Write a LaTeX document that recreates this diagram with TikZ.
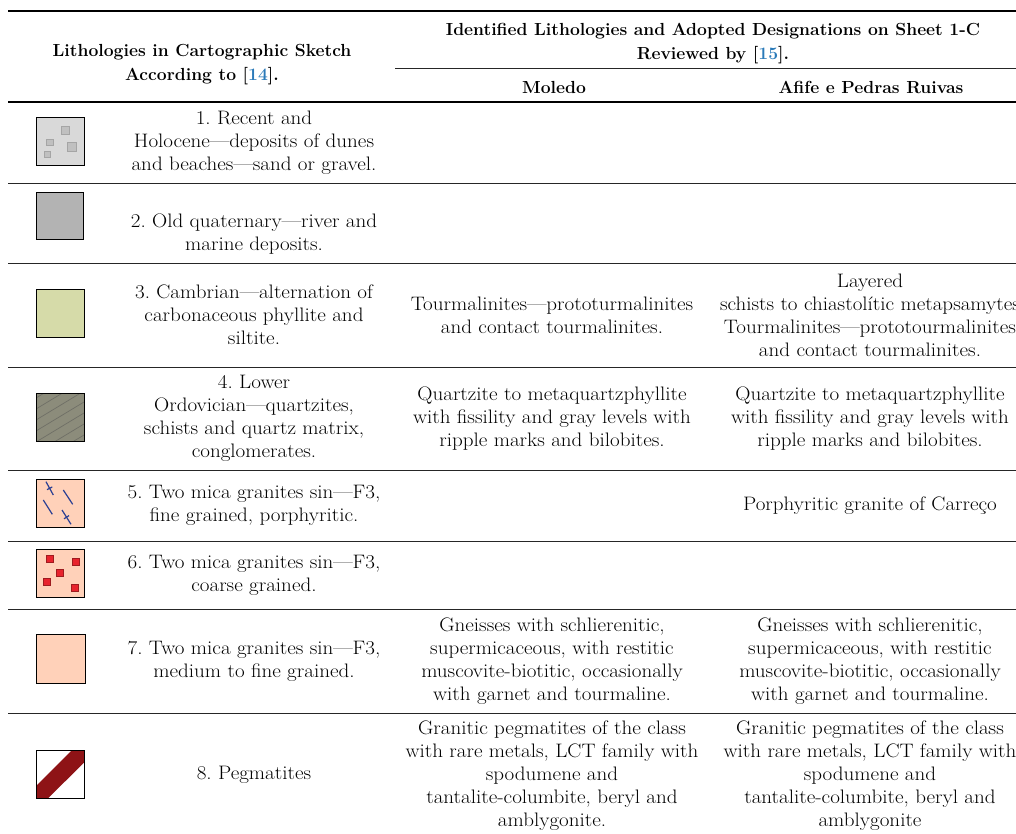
\documentclass[tikz,border=0pt]{standalone}
\usepackage{fontspec}
\newfontfamily\bodyfont{Latin Modern Roman}[FakeStretch=1.08,Ligatures=TeX]
\definecolor{swA}{HTML}{D9D9D9}
\definecolor{swAsq}{HTML}{C0C0C0}
\definecolor{swAsqb}{HTML}{A5A5A5}
\definecolor{swB}{HTML}{B3B3B3}
\definecolor{swC}{HTML}{D6DBA9}
\definecolor{swD}{HTML}{8C8C7B}
\definecolor{swDh}{HTML}{6F6F66}
\definecolor{peach}{HTML}{FFD1B9}
\definecolor{redsq}{HTML}{E8232D}
\definecolor{redsqb}{HTML}{9E1B1F}
\definecolor{tickblue}{HTML}{2A3F93}
\definecolor{band}{HTML}{8E1316}
\definecolor{citeblue}{HTML}{2A7AB9}
\begin{document}
\begin{tikzpicture}[x=1pt,y=-1pt,
  body/.style={align=center, font=\bodyfont\frenchspacing\fontsize{19.5}{23}\selectfont, inner sep=0pt},
  head/.style={align=center, font=\bfseries\fontsize{17.5}{24}\selectfont, inner sep=0pt},
  rule/.style={line width=1pt, draw=black!85},
  swatch/.style={draw=black, line width=1.2pt}]
\useasboundingbox (0,0) rectangle (1016,834);
% rules
\draw[line width=1.6pt] (8,11) -- (1016,11);
\draw[rule] (395,69) -- (1016,69);
\draw[line width=1.2pt] (8,102) -- (1016,102);
\foreach \yy in {184,263,367,470,541,609,713}
  \draw[rule] (8,\yy) -- (1016,\yy);
% headers
\node[head] (h1) at (202,65) {Lithologies in Cartographic Sketch\\According to [\textcolor{citeblue}{14}].};
\node[head] (h2) at (713,43.5) {Identified Lithologies and Adopted Designations on Sheet 1-C\\Reviewed by [\textcolor{citeblue}{15}].};
\node[head] (h3) at (554,87) {Moledo};
\node[head] (h4) at (871,87) {Afife e Pedras Ruivas};
% swatch 1
\fill[swA] (36,117) rectangle (84,165);
\foreach \sx/\sy/\ss in {61.7/126.3/8, 46.7/139/6.5, 67.7/142.3/9, 44/151.3/6.5}
  \filldraw[fill=swAsq, draw=swAsqb, line width=0.8pt] (\sx,\sy) rectangle ++(\ss,\ss);
\node[swatch, minimum size=48pt, inner sep=0pt, anchor=north west] (s1) at (36,117) {};
% swatch 2
\node[swatch, fill=swB, minimum size=47pt, inner sep=0pt, anchor=north west] (s2) at (36,192) {};
% swatch 3
\node[swatch, fill=swC, minimum size=48pt, inner sep=0pt, anchor=north west] (s3) at (36,289) {};
% swatch 4
\fill[swD] (36,393) rectangle (84,441);
\begin{scope}
  \clip (36,393) rectangle (84,441);
  \foreach \c in {398,409,420,431,442,453,464}
    \draw[swDh, line width=0.7pt] (36,\c) -- (84,\c-29);
\end{scope}
\node[swatch, minimum size=48pt, inner sep=0pt, anchor=north west] (s4) at (36,393) {};
% swatch 5
\fill[peach] (36,479) rectangle (84,527);
\begin{scope}[draw=tickblue, line width=1.2pt]
  \draw (46,481.7) -- (53.3,495);
  \draw (47,489.7) -- (52.3,486.9);
  \draw (63.3,490) -- (72.7,504.3);
  \draw (43.3,500) -- (52.3,514.3);
  \draw (62,510) -- (71,524.3);
  \draw (64,518.8) -- (69,515.6);
\end{scope}
\node[swatch, minimum size=48pt, inner sep=0pt, anchor=north west] (s5) at (36,479) {};
% swatch 6
\fill[peach] (36,549) rectangle (84,597);
\foreach \sx/\sy in {46/555.7, 72/558, 56.7/569.3, 43.3/578.7, 71.7/584.7}
  \filldraw[fill=redsq, draw=redsqb, line width=0.8pt] (\sx,\sy) rectangle ++(7,7);
\node[swatch, minimum size=48pt, inner sep=0pt, anchor=north west] (s6) at (36,549) {};
% swatch 7
\node[swatch, fill=peach, minimum size=49pt, inner sep=0pt, anchor=north west] (s7) at (36,634) {};
% swatch 8
\fill[band] (36,798) -- (36,786) -- (72,750) -- (84,750) -- (84,762.7) -- (48.3,798) -- cycle;
\node[swatch, minimum size=48pt, inner sep=0pt, anchor=north west] (s8) at (36,750) {};
% column 1 texts
\node[body] (t1) at (254,143) {1. Recent and\\Holocene---deposits of dunes\\and beaches---sand or gravel.};
\node[body] (t2) at (254,234) {2. Old quaternary---river and\\marine deposits.};
\node[body] (t3) at (254,315) {3. Cambrian---alternation of\\carbonaceous phyllite and\\siltite.};
\node[body] (t4) at (254,418) {4. Lower\\Ordovician---quartzites,\\schists and quartz matrix,\\conglomerates.};
\node[body] (t5) at (254,505) {5. Two mica granites sin---F3,\\fine grained, porphyritic.};
\node[body] (t6) at (254,575) {6. Two mica granites sin---F3,\\coarse grained.};
\node[body] (t7) at (254,661) {7. Two mica granites sin---F3,\\medium to fine grained.};
\node[body] (t8) at (254,775) {8. Pegmatites};
% column 2 texts
\node[body] (m3) at (552,315) {Tourmalinites---prototurmalinites\\and contact tourmalinites.};
\node[body] (m4) at (552,419) {Quartzite to metaquartzphyllite\\with fissility and gray levels with\\ripple marks and bilobites.};
\node[body] (m7) at (552,661.5) {Gneisses with schlierenitic,\\supermicaceous, with restitic\\muscovite-biotitic, occasionally\\with garnet and tourmaline.};
\node[body] (m8) at (552,776) {Granitic pegmatites of the class\\with rare metals, LCT family with\\spodumene and\\tantalite-columbite, beryl and\\amblygonite.};
% column 3 texts
\node[body] (a3) at (870,315) {Layered\\schists to chiastolític metapsamytes\\Tourmalinites---prototourmalinites\\and contact tourmalinites.};
\node[body] (a4) at (870,419) {Quartzite to metaquartzphyllite\\with fissility and gray levels with\\ripple marks and bilobites.};
\node[body] (a5) at (870,506) {Porphyritic granite of Carreço};
\node[body] (a7) at (870,661.5) {Gneisses with schlierenitic,\\supermicaceous, with restitic\\muscovite-biotitic, occasionally\\with garnet and tourmaline.};
\node[body] (a8) at (870,776) {Granitic pegmatites of the class\\with rare metals, LCT family with\\spodumene and\\tantalite-columbite, beryl and\\amblygonite};
\end{tikzpicture}
\end{document}
